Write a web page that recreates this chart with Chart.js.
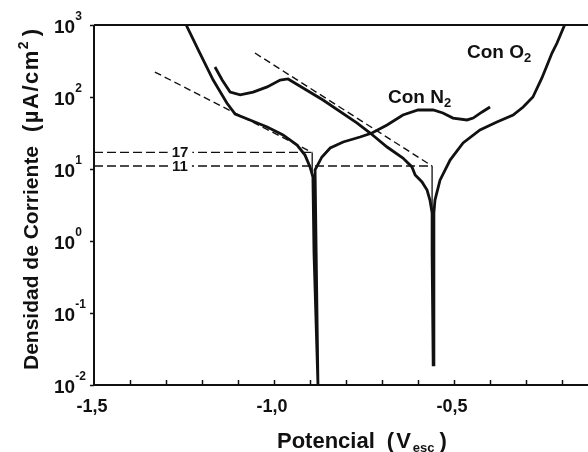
<!DOCTYPE html>
<html>
<head>
<meta charset="utf-8">
<script src="https://cdn.jsdelivr.net/npm/chart.js@4.4.0/dist/chart.umd.min.js"></script>
<style>
  body { margin: 0; background: #fff; }
  #wrap { width: 588px; height: 452px; }
</style>
</head>
<body>
<div id="wrap"><canvas id="curvas" width="588" height="452"></canvas></div>
<script>
// datos: curva con N2 (potencial en V, corriente en µA/cm²)
const n2Potencial = [-1.244, -1.206, -1.169, -1.131, -1.108, -1.067, -1.019, -0.975, -0.936, -0.914, -0.900, -0.892, -0.889, -0.878,
  -0.883, -0.886, -0.867, -0.844, -0.808, -0.761, -0.728, -0.686, -0.642, -0.600, -0.558, -0.531, -0.503, -0.464, -0.447, -0.422, -0.400];
const n2Corriente = [1000, 408, 172, 82.6, 58, 48, 38.3, 29.7, 21.5, 15.6, 10.7, 7.7, 0.68, 0.01,
  0.7, 9.7, 14.7, 19.6, 23.7, 27.8, 31.6, 40.8, 56.2, 66, 66, 60, 51, 48, 51, 62, 72.6];

// datos: curva con O2
const o2Potencial = [-1.164, -1.144, -1.122, -1.094, -1.058, -1.019, -0.983, -0.961, -0.864, -0.769, -0.733, -0.686, -0.642, -0.617,
  -0.608, -0.589, -0.575, -0.567, -0.561, -0.561, -0.558, -0.556, -0.556, -0.553, -0.539, -0.511, -0.475, -0.428, -0.381, -0.336,
  -0.308, -0.281, -0.256, -0.247, -0.228, -0.214, -0.193];
const o2Corriente = [261, 172, 117, 107, 117, 138, 172, 178, 90.9, 43.5, 31.6, 20.2, 14.2, 10.7,
  8.26, 6.6, 5.1, 3.7, 2.45, 0.68, 0.019, 0.7, 2.45, 3.7, 7.0, 13.3, 23, 34.8, 45, 56,
  72.6, 100, 184, 237, 408, 562, 1000];

// rectas de Tafel
const tafelN2Potencial = [-1.331, -0.894];
const tafelN2Corriente = [222, 17];
const tafelO2Potencial = [-1.053, -0.561];
const tafelO2Corriente = [408, 11];

// corrientes de corrosión
const icorrValores = [17, 11];
const icorrEtiquetas = ['17', '11'];
const ecorrPotencial = [-0.894, -0.561];
const ecorrFinCurva = [9, 2.5];

// ejes
const xMin = -1.5;
const xMax = -0.128;
const xEtiquetaValores = [-1.5, -1.0, -0.5];
const xEtiquetas = ['-1,5', '-1,0', '-0,5'];
const xMarcas = [-1.4, -1.3, -1.2, -1.1, -1.0, -0.9, -0.8, -0.7, -0.6, -0.5, -0.4, -0.3, -0.2];
const yExponentes = [3, 2, 1, 0, -1, -2];

const FUENTE = '"Liberation Sans", Arial, sans-serif';
const NEGRO = '#111';

function puntos(xs, ys) {
  return xs.map((v, i) => ({ x: v, y: ys[i] }));
}

function serie(data, opts) {
  return Object.assign({
    data,
    showLine: true,
    pointRadius: 0,
    borderColor: NEGRO,
    borderWidth: 2.8,
    fill: false,
    tension: 0
  }, opts || {});
}

function armarDatasets() {
  const ds = [
    serie(puntos(n2Potencial, n2Corriente)),
    serie(puntos(o2Potencial, o2Corriente)),
    serie(puntos(tafelN2Potencial, tafelN2Corriente), { borderWidth: 1.4, borderDash: [7, 4] }),
    serie(puntos(tafelO2Potencial, tafelO2Corriente), { borderWidth: 1.4, borderDash: [7, 4] })
  ];
  icorrValores.forEach((v, i) => {
    ds.push(serie([{ x: xMin, y: v }, { x: ecorrPotencial[i], y: v }], { borderWidth: 1.4, borderDash: [9, 4] }));
    ds.push(serie([{ x: ecorrPotencial[i], y: v }, { x: ecorrPotencial[i], y: ecorrFinCurva[i] }], { borderWidth: 1.3 }));
  });
  return ds;
}

// texto con sub/superíndice; p.gap añade espacio, p.sp separa letras
function textoCompuesto(ctx, partes, x, y) {
  let cx = x;
  partes.forEach(p => {
    if (p.gap) { cx += p.gap; return; }
    ctx.font = `bold ${p.size}px ${FUENTE}`;
    if (p.sp) {
      [...p.t].forEach(ch => {
        ctx.fillText(ch, cx, y + (p.dy || 0));
        cx += ctx.measureText(ch).width + p.sp;
      });
    } else {
      ctx.fillText(p.t, cx, y + (p.dy || 0));
      cx += ctx.measureText(p.t).width;
    }
  });
  return cx - x;
}

const ejesPlugin = {
  id: 'ejes',
  afterDraw(chart) {
    const { ctx, chartArea: a, scales: { x, y } } = chart;
    ctx.save();
    ctx.strokeStyle = NEGRO;
    ctx.fillStyle = NEGRO;
    ctx.setLineDash([]);

    // marco
    ctx.lineWidth = 2;
    ctx.beginPath();
    ctx.moveTo(a.left, a.top);
    ctx.lineTo(a.right, a.top);
    ctx.moveTo(a.left, a.top);
    ctx.lineTo(a.left, a.bottom);
    ctx.lineTo(a.right, a.bottom);
    ctx.stroke();

    // marcas
    ctx.lineWidth = 1.5;
    ctx.beginPath();
    xMarcas.forEach(v => {
      const px = Math.round(x.getPixelForValue(v)) + 0.5;
      ctx.moveTo(px, a.bottom);
      ctx.lineTo(px, a.bottom - 5);
    });
    yExponentes.forEach(e => {
      const py = Math.round(y.getPixelForValue(Math.pow(10, e))) + 0.5;
      ctx.moveTo(a.left, py);
      ctx.lineTo(a.left - 4, py);
    });
    ctx.stroke();

    // etiquetas eje x
    ctx.font = `bold 18px ${FUENTE}`;
    ctx.textAlign = 'center';
    ctx.textBaseline = 'alphabetic';
    xEtiquetaValores.forEach((v, i) => {
      ctx.fillText(xEtiquetas[i], x.getPixelForValue(v) - 2, a.bottom + 27);
    });

    // etiquetas eje y
    ctx.textAlign = 'left';
    yExponentes.forEach(e => {
      const py = y.getPixelForValue(Math.pow(10, e));
      textoCompuesto(ctx, [
        { t: '10', size: 19 },
        { t: String(e), size: 12, dy: -13 }
      ], 54, py + 8);
    });

    // título eje x
    textoCompuesto(ctx, [
      { t: 'Potencial', size: 22 },
      { gap: 12 },
      { t: '(V', size: 22, sp: 2 },
      { t: 'esc', size: 13, dy: 4 },
      { gap: 5 },
      { t: ')', size: 22 }
    ], 277, 448);

    // título eje y
    ctx.save();
    ctx.translate(38, 370);
    ctx.rotate(-Math.PI / 2);
    textoCompuesto(ctx, [
      { t: 'Densidad de Corriente', size: 21 },
      { gap: 14 },
      { t: '(µA/cm', size: 22, sp: 1.5 },
      { t: '2', size: 14, dy: -10 },
      { gap: 5 },
      { t: ')', size: 22 }
    ], 0, 0);
    ctx.restore();

    // etiquetas de icorr sobre las líneas
    icorrValores.forEach((v, i) => {
      const py = y.getPixelForValue(v);
      ctx.font = `bold 15px ${FUENTE}`;
      const w = ctx.measureText(icorrEtiquetas[i]).width;
      ctx.fillStyle = '#fff';
      ctx.fillRect(180 - w / 2 - 4, py - 7, w + 8, 14);
      ctx.fillStyle = NEGRO;
      ctx.textAlign = 'center';
      ctx.fillText(icorrEtiquetas[i], 180, py + 5);
      ctx.textAlign = 'left';
    });

    // nombres de curvas
    textoCompuesto(ctx, [{ t: 'Con O', size: 19 }, { t: '2', size: 13, dy: 4 }], 467, 58);
    textoCompuesto(ctx, [{ t: 'Con N', size: 19 }, { t: '2', size: 13, dy: 4 }], 388, 103);

    ctx.restore();
  }
};

new Chart(document.getElementById('curvas'), {
  type: 'scatter',
  data: { datasets: armarDatasets() },
  options: {
    responsive: false,
    animation: false,
    layout: { padding: { top: 25, right: 0, left: 0, bottom: 0 } },
    plugins: { legend: { display: false }, tooltip: { enabled: false } },
    scales: {
      x: {
        type: 'linear',
        min: xMin,
        max: xMax,
        grid: { display: false },
        border: { display: false },
        ticks: { display: false },
        afterFit: s => { s.height = 67; }
      },
      y: {
        type: 'logarithmic',
        min: 0.01,
        max: 1000,
        grid: { display: false },
        border: { display: false },
        ticks: { display: false },
        afterFit: s => { s.width = 94; }
      }
    }
  },
  plugins: [ejesPlugin]
});
</script>
</body>
</html>
